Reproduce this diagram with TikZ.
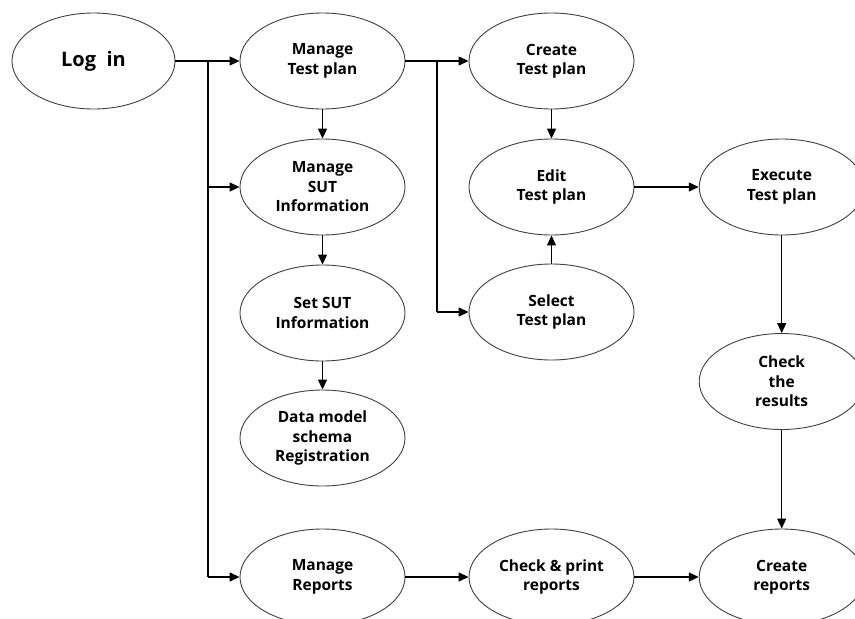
\documentclass[tikz,border=0pt]{standalone}
\usepackage{fontspec}
\setmainfont{Open Sans}
\usetikzlibrary{shapes.geometric,arrows.meta}

\begin{document}
\begin{tikzpicture}[x=1pt,y=-1pt,
  state/.style={ellipse,draw=black!75,line width=0.9pt,fill=white,
    minimum width=165pt,minimum height=96pt,inner sep=0pt,
    align=center,font=\bfseries\fontsize{15.5}{19.5}\selectfont},
  flow/.style={line width=1.3pt,-{Triangle[length=10pt,width=9pt]}},
  wire/.style={line width=1.3pt}]
\useasboundingbox (0,0) rectangle (855,619);
\clip (0,0) rectangle (855,619);
\fill[white] (0,0) rectangle (855,619);

% activities
\node[state,minimum width=163pt,font=\bfseries\fontsize{20}{24}\selectfont] (login) at (93.5,61) {Log\ \ in};
\node[state] (mtp)  at (322.5,61)  {Manage\\Test plan};
\node[state] (ctp)  at (551.5,61)  {Create\\Test plan};
\node[state] (msut) at (322.5,187) {Manage\\SUT\\Information};
\node[state] (etp)  at (551.5,187) {Edit\\Test plan};
\node[state] (exe)  at (781.7,187) {Execute\\Test plan};
\node[state] (ssut) at (322.5,313) {Set SUT\\Information};
\node[state] (stp)  at (551.5,312) {Select\\Test plan};
\node[state] (chk)  at (781.7,381.5) {Check\\the\\results};
\node[state] (dms)  at (322.5,438) {Data model\\schema\\Registration};
\node[state] (mrep) at (322.5,577) {Manage\\Reports};
\node[state] (cpr)  at (551.5,577) {Check \& print\\reports};
\node[state] (crep) at (781.7,577) {Create\\reports};

% branch points
\coordinate (b1) at (208,61);
\coordinate (b2) at (437,61);

% from log in
\draw[flow] (login.east) -- (mtp.west);
\draw[wire] (b1) -- (208,577);
\draw[flow] (b1 |- msut.west) -- (msut.west);
\draw[flow] (b1 |- mrep.west) -- (mrep.west);

% test plan branch
\draw[flow] (mtp.east) -- (ctp.west);
\draw[wire] (b2) -- (b2 |- stp.west);
\draw[flow] (b2 |- stp.west) -- (stp.west);
\draw[flow] (ctp.south) -- (etp.north);
\draw[flow] (stp.north) -- (etp.south);
\draw[flow] (etp.east) -- (exe.west);
\draw[flow] (exe.south) -- (chk.north);
\draw[flow] (chk.south) -- (crep.north);

% SUT branch
\draw[flow] (mtp.south) -- (msut.north);
\draw[flow] (msut.south) -- (ssut.north);
\draw[flow] (ssut.south) -- (dms.north);

% reports
\draw[flow] (mrep.east) -- (cpr.west);
\draw[flow] (cpr.east) -- (crep.west);
\end{tikzpicture}
\end{document}
